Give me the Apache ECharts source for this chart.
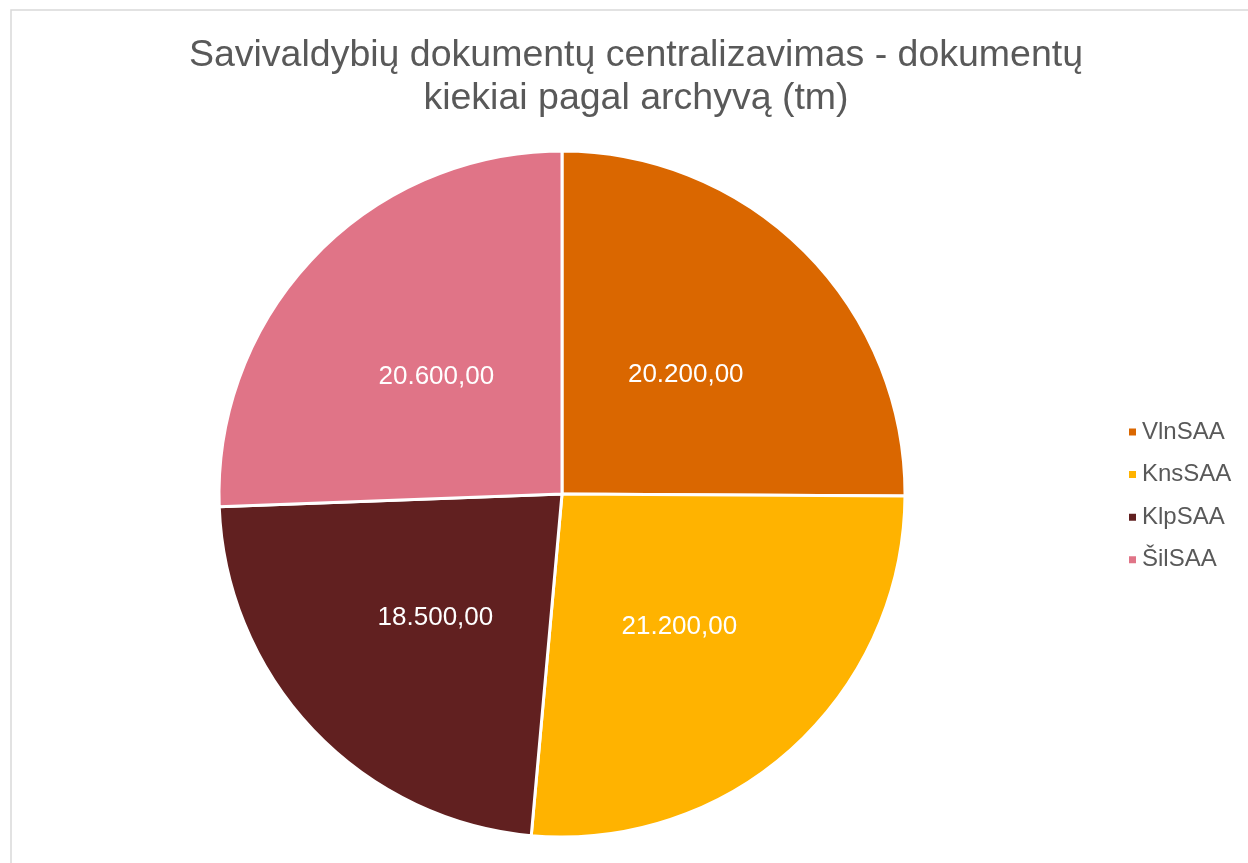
<!DOCTYPE html>
<html>
<head>
<meta charset="utf-8">
<script src="https://cdn.jsdelivr.net/npm/echarts@6/dist/echarts.min.js"></script>
<style>
  html, body { margin: 0; padding: 0; background: #fff; }
  #chart { width: 1248px; height: 863px; }
</style>
</head>
<body>
<div id="chart"></div>
<script>
let archives = ['VlnSAA', 'KnsSAA', 'KlpSAA', 'ŠilSAA'];
let amounts = [20200, 21200, 18500, 20600];
let colors = ['#da6700', '#ffb300', '#612020', '#e07487'];

// 20200 -> "20.200,00"
function fmt(v) {
  let s = String(Math.round(v)).replace(/\B(?=(\d{3})+(?!\d))/g, '.');
  return s + ',00';
}

let chart = echarts.init(document.getElementById('chart'));

chart.setOption({
  animation: false,
  color: colors,
  title: {
    text: 'Savivaldybių dokumentų centralizavimas - dokumentų\nkiekiai pagal archyvą (tm)',
    left: 636,
    top: 34,
    padding: 0,
    textAlign: 'center',
    textStyle: {
      fontFamily: 'Liberation Sans',
      fontSize: 37.5,
      fontWeight: 'normal',
      lineHeight: 43,
      color: '#595959'
    }
  },
  legend: {
    orient: 'vertical',
    left: 1127,
    top: 420,
    padding: 0,
    icon: 'rect',
    itemWidth: 9,
    itemHeight: 9,
    itemGap: 18.6,
    textStyle: {
      fontFamily: 'Liberation Sans',
      fontSize: 24,
      color: '#595959'
    },
    data: archives
  },
  graphic: [{
    type: 'rect',
    silent: true,
    shape: { x: 11, y: 10, width: 1300, height: 900 },
    style: { fill: 'none', stroke: '#d9d9d9', lineWidth: 1.5 }
  }],
  series: [{
    type: 'pie',
    center: [562, 494],
    radius: 343,
    startAngle: 90,
    clockwise: true,
    itemStyle: { borderColor: '#fff', borderWidth: 3 },
    label: {
      position: 'inside',
      offset: [0, 4],
      color: '#fff',
      fontFamily: 'Liberation Sans',
      fontSize: 26,
      formatter: p => fmt(p.value)
    },
    labelLine: { show: false },
    emphasis: { disabled: true },
    data: archives.map((name, i) => ({ name: name, value: amounts[i] }))
  }]
});
</script>
</body>
</html>
